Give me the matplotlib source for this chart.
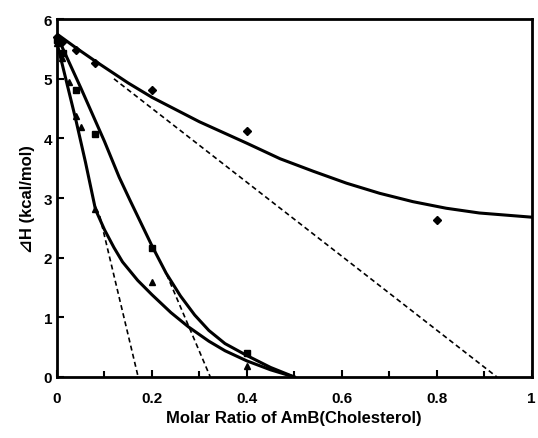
import numpy as np
import matplotlib.pyplot as plt
from matplotlib.ticker import MultipleLocator, FormatStrFormatter

dia_x = [0, 0.01, 0.04, 0.08, 0.2, 0.4, 0.8]
dia_y = [5.7, 5.62, 5.49, 5.27, 4.82, 4.12, 2.64]
sq_x = [0, 0.013, 0.04, 0.08, 0.2, 0.4]
sq_y = [5.65, 5.44, 4.81, 4.07, 2.16, 0.40]
tri_x = [0, 0.01, 0.025, 0.04, 0.05, 0.08, 0.2, 0.4]
tri_y = [5.6, 5.35, 4.94, 4.37, 4.2, 2.81, 1.59, 0.18]

# fitted curves
c1_x = [0, 0.04, 0.08, 0.15, 0.2, 0.3, 0.4, 0.47, 0.54, 0.61, 0.68, 0.75, 0.82, 0.89, 1.0]
c1_y = [5.75, 5.52, 5.3, 4.93, 4.69, 4.28, 3.92, 3.66, 3.45, 3.25, 3.08, 2.94, 2.83, 2.75, 2.68]
c2_x = [0, 0.05, 0.1, 0.131, 0.154, 0.2, 0.23, 0.26, 0.29, 0.32, 0.354, 0.4, 0.45, 0.5]
c2_y = [5.72, 4.85, 3.95, 3.35, 2.96, 2.2, 1.74, 1.36, 1.04, 0.78, 0.56, 0.36, 0.16, 0.0]
c3_x = [0, 0.02, 0.04, 0.06, 0.081, 0.1, 0.12, 0.138, 0.17, 0.2, 0.24, 0.277, 0.32, 0.354, 0.4, 0.45, 0.5]
c3_y = [5.6, 4.95, 4.3, 3.6, 2.81, 2.47, 2.17, 1.93, 1.62, 1.38, 1.08, 0.84, 0.6, 0.44, 0.27, 0.12, 0.0]

# tangent (dashed) lines
d1_x, d1_y = [0.12, 0.927], [5.0, 0]
d2_x, d2_y = [0.231, 0.323], [1.72, 0]
d3_x, d3_y = [0.09, 0.171], [2.7, 0]

plt.rcParams['font.family'] = ['Liberation Sans', 'DejaVu Sans']
plt.rcParams['font.weight'] = 'bold'

fig = plt.figure(figsize=(5.38, 4.39), dpi=100)
ax = fig.add_axes([0.106, 0.139, 0.882, 0.815])

for cx, cy in [(c1_x, c1_y), (c2_x, c2_y), (c3_x, c3_y)]:
    ax.plot(cx, cy, color='black', lw=2.2)
for dx, dy in [(d1_x, d1_y), (d2_x, d2_y), (d3_x, d3_y)]:
    ax.plot(dx, dy, color='black', lw=1.2, ls=(0, (3, 2)))

ax.plot(dia_x, dia_y, 'D', color='black', ms=4, ls='none', clip_on=False)
ax.plot(sq_x, sq_y, 's', color='black', ms=5, ls='none', clip_on=False)
ax.plot(tri_x, tri_y, '^', color='black', ms=5, ls='none', clip_on=False)

ax.set_xlim(0, 1)
ax.set_ylim(0, 6)
ax.xaxis.set_major_locator(MultipleLocator(0.2))
ax.xaxis.set_minor_locator(MultipleLocator(0.1))
ax.yaxis.set_major_locator(MultipleLocator(1))
ax.xaxis.set_major_formatter(FormatStrFormatter('%g'))
ax.tick_params(which='both', direction='in', width=1.5, labelsize=11)
ax.tick_params(which='major', length=5)
ax.tick_params(which='minor', length=4)
ax.tick_params(axis='x', pad=10)
for s in ax.spines.values():
    s.set_linewidth(2)

ax.set_xlabel('Molar Ratio of AmB(Cholesterol)', fontsize=12, fontweight='bold')
ax.set_ylabel('⊿H (kcal/mol)', fontsize=12, fontweight='bold', labelpad=6)

plt.savefig('out.png')
